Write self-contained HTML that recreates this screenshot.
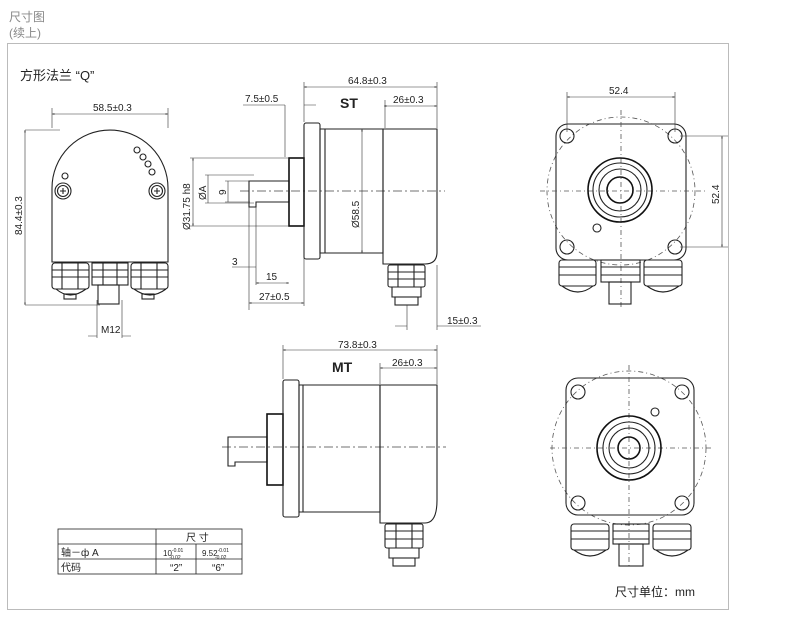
<!DOCTYPE html>
<html><head><meta charset="utf-8"><style>
html,body{margin:0;padding:0;background:#fff;}
svg{display:block;font-family:"Liberation Sans","Noto Sans CJK SC",sans-serif;}
.l{fill:none;stroke:#222;stroke-width:1.1}
.b{fill:none;stroke:#111;stroke-width:1.6}
.t{fill:none;stroke:#333;stroke-width:0.6}
.c{fill:none;stroke:#444;stroke-width:0.7;stroke-dasharray:9 3 2 3}
.d{fill:none;stroke:#555;stroke-width:0.8;stroke-dasharray:5 3 1 3}
text{fill:#222;font-size:10px}
</style></head><body>
<svg width="790" height="626" viewBox="0 0 790 626">
<defs><marker id="a" viewBox="0 0 10 10" refX="10" refY="5" markerWidth="6" markerHeight="4" orient="auto-start-reverse"><path d="M0,2 L10,5 L0,8z" fill="#222"/></marker></defs>
<text x="9" y="21" style="fill:#888;font-size:12px">尺寸图</text>
<text x="9" y="37" style="fill:#888;font-size:12px">(续上)</text>
<rect x="7.5" y="43.5" width="721" height="566" fill="none" stroke="#bbb" stroke-width="1"/>
<text x="20" y="80" style="font-size:13px">方形法兰 “Q”</text>

<!-- Front view left -->
<path class="l" d="M52,262 V188 A58,58 0 0 1 168,188 V262 Z"/>
<circle class="l" cx="63" cy="191" r="8"/><circle class="l" cx="63" cy="191" r="5.5"/>
<circle class="l" cx="157" cy="191" r="8"/><circle class="l" cx="157" cy="191" r="5.5"/>
<path class="l" d="M60,191h6M63,188v6M154,191h6M157,188v6"/>
<circle class="l" cx="65" cy="176" r="3"/><circle class="l" cx="137" cy="150" r="3"/><circle class="l" cx="143" cy="157" r="3"/><circle class="l" cx="148" cy="164" r="3"/><circle class="l" cx="152" cy="172" r="3"/>
<g class="l">
<rect x="52" y="263" width="37" height="26" rx="3"/><path d="M52,270h37M52,277h37M62,263v26M78,263v26"/><path d="M56,289 q14,12 30,0"/><rect x="64" y="294" width="12" height="5"/>
<rect x="92" y="263" width="36" height="22"/><path d="M92,270h36M92,277h36M103,263v22M117,263v22"/><rect x="98" y="285" width="21" height="19"/>
<rect x="131" y="263" width="37" height="26" rx="3"/><path d="M131,270h37M131,277h37M141,263v26M157,263v26"/><path d="M134,289 q16,12 32,0"/><rect x="142" y="294" width="12" height="5"/>
</g>
<path class="t" d="M52,108V128M168,108V128M25,130H60M25,305H100"/>
<line class="t" x1="52" y1="114" x2="168" y2="114" marker-start="url(#a)" marker-end="url(#a)"/>
<text x="93" y="111">58.5±0.3</text>
<line class="t" x1="25" y1="130" x2="25" y2="305" marker-start="url(#a)" marker-end="url(#a)"/>
<text transform="translate(22,235) rotate(-90)">84.4±0.3</text>
<path class="t" d="M97,300V338M122,300V338M88,336h9M122,336h9"/>
<text x="101" y="333">M12</text>

<!-- ST side view -->
<line class="c" x1="240" y1="191" x2="445" y2="191"/>
<path class="l" d="M249,181H289V202H256V207H249Z"/>
<rect class="b" x="289" y="158" width="15" height="68"/>
<rect class="l" x="304" y="123" width="16" height="136" rx="2"/>
<path class="l" d="M320,129H383V253H320ZM325,129V253"/>
<path class="l" d="M383,129H437V252Q437,264 425,264H383Z"/>
<g class="l"><rect x="388" y="265" width="37" height="22" rx="2"/><path d="M388,272h37M388,279h37M398,265v22M414,265v22"/><path d="M392,287v10h29v-10"/><rect x="395" y="297" width="23" height="8"/></g>
<path class="t" d="M304,82V122M437,82V128M285,105V157M385,100V128M407,305V330M437,265V330"/>
<line class="t" x1="304" y1="87" x2="437" y2="87" marker-start="url(#a)" marker-end="url(#a)"/>
<text x="348" y="84">64.8±0.3</text>
<path class="t" d="M243,105H285M304,105H316"/><text x="245" y="102">7.5±0.5</text>
<text x="340" y="108" style="font-weight:bold;font-size:14px">ST</text>
<line class="t" x1="384" y1="106" x2="437" y2="106" marker-start="url(#a)" marker-end="url(#a)"/><text x="393" y="103">26±0.3</text>
<path class="t" d="M190,158H289M190,226H289M205,175H254M205,203H254M225,181H250M225,202H250"/>
<line class="t" x1="193" y1="158" x2="193" y2="226" marker-start="url(#a)" marker-end="url(#a)"/>
<text transform="translate(190,230) rotate(-90)">Ø31.75 h8</text>
<line class="t" x1="208" y1="175" x2="208" y2="203"/><text transform="translate(206,200) rotate(-90)">ØA</text>
<line class="t" x1="228" y1="181" x2="228" y2="202"/><text transform="translate(226,195) rotate(-90)">9</text>
<line class="t" x1="362" y1="129" x2="362" y2="253" marker-start="url(#a)" marker-end="url(#a)"/>
<text transform="translate(359,228) rotate(-90)">Ø58.5</text>
<path class="t" d="M249,207V310M256,207V285M304,226V306"/>
<path class="t" d="M232,267H256"/><text x="232" y="265">3</text>
<line class="t" x1="256" y1="283" x2="289" y2="283" marker-start="url(#a)" marker-end="url(#a)"/><text x="266" y="280">15</text>
<line class="t" x1="249" y1="303" x2="304" y2="303" marker-start="url(#a)" marker-end="url(#a)"/><text x="259" y="300">27±0.5</text>
<path class="t" d="M395,326H407M437,326H481"/><text x="447" y="324">15±0.3</text>

<!-- top-right view -->
<circle class="d" cx="621" cy="191" r="74"/>
<rect class="l" x="556" y="124" width="130" height="136" rx="12"/>
<line class="d" x1="540" y1="191" x2="705" y2="191"/><line class="d" x1="621" y1="110" x2="621" y2="310"/>
<circle class="b" cx="620" cy="190" r="32"/><circle class="l" cx="620" cy="190" r="27"/><circle class="l" cx="620" cy="190" r="21"/><circle class="b" cx="620" cy="190" r="13"/>
<g class="l"><circle cx="567" cy="136" r="7"/><circle cx="675" cy="136" r="7"/><circle cx="567" cy="247" r="7"/><circle cx="675" cy="247" r="7"/><circle cx="597" cy="228" r="4"/>
<rect x="559" y="260" width="37" height="26" rx="3"/><path d="M559,267h37M559,275h37"/><path d="M562,286q16,12 31,0"/>
<rect x="601" y="260" width="39" height="22"/><path d="M601,267h39M601,275h39"/><rect x="609" y="282" width="22" height="22"/>
<rect x="644" y="260" width="38" height="26" rx="3"/><path d="M644,267h38M644,275h38"/><path d="M647,286q16,12 32,0"/></g>
<path class="t" d="M567,92V132M675,92V132M680,136H728M680,247H728"/>
<line class="t" x1="567" y1="97" x2="675" y2="97" marker-start="url(#a)" marker-end="url(#a)"/><text x="609" y="94">52.4</text>
<line class="t" x1="722" y1="136" x2="722" y2="247" marker-start="url(#a)" marker-end="url(#a)"/>
<text transform="translate(719,204) rotate(-90)">52.4</text>

<!-- MT side view -->
<line class="c" x1="222" y1="447" x2="446" y2="447"/>
<path class="l" d="M228,437H267V462H235V466H228Z"/>
<rect class="b" x="267" y="414" width="16" height="71"/>
<rect class="l" x="283" y="380" width="16" height="137" rx="2"/>
<path class="l" d="M299,385H380V512H299ZM303,385V512"/>
<path class="l" d="M380,385H437V500Q437,523 425,523H380Z"/>
<g class="l"><rect x="385" y="524" width="38" height="24" rx="2"/><path d="M385,531h38M385,539h38M396,524v24M412,524v24"/><path d="M389,548v10h30v-10"/><rect x="393" y="558" width="22" height="8"/></g>
<path class="t" d="M283,345V379M437,345V384M380,363V384"/>
<line class="t" x1="283" y1="350" x2="437" y2="350" marker-start="url(#a)" marker-end="url(#a)"/><text x="338" y="348">73.8±0.3</text>
<text x="332" y="372" style="font-weight:bold;font-size:14px">MT</text>
<line class="t" x1="380" y1="368" x2="437" y2="368" marker-start="url(#a)" marker-end="url(#a)"/><text x="392" y="366">26±0.3</text>

<!-- bottom-right view -->
<circle class="d" cx="629" cy="448" r="77"/>
<rect class="l" x="566" y="378" width="128" height="137" rx="12"/>
<line class="d" x1="550" y1="448" x2="713" y2="448"/><line class="d" x1="629" y1="365" x2="629" y2="568"/>
<circle class="b" cx="629" cy="448" r="32"/><circle class="l" cx="629" cy="448" r="26"/><circle class="l" cx="629" cy="448" r="20"/><circle class="b" cx="629" cy="448" r="11"/>
<g class="l"><circle cx="578" cy="392" r="7"/><circle cx="682" cy="392" r="7"/><circle cx="578" cy="503" r="7"/><circle cx="682" cy="503" r="7"/><circle cx="655" cy="412" r="4"/>
<rect x="571" y="524" width="38" height="26" rx="3"/><path d="M571,531h38M571,539h38"/><path d="M574,550q16,12 32,0"/>
<rect x="613" y="524" width="36" height="20"/><path d="M613,531h36M613,539h36"/><rect x="619" y="544" width="24" height="22"/>
<rect x="653" y="524" width="38" height="26" rx="3"/><path d="M653,531h38M653,539h38"/><path d="M656,550q16,12 32,0"/></g>
<text x="615" y="596" style="font-size:12px">尺寸单位：mm</text>

<!-- table -->
<g class="t" style="stroke:#222;stroke-width:0.8"><rect x="58" y="529" width="184" height="45"/><path d="M58,544H242M58,559H242M156,529V574M196,544V574"/></g>
<text x="186" y="541">尺  寸</text>
<text x="61" y="556">轴－ф A</text>
<text x="163" y="556" style="font-size:8px">10<tspan dy="-4" style="font-size:5px">-0.01</tspan><tspan dx="-14" dy="7" style="font-size:5px">-0.02</tspan></text>
<text x="202" y="556" style="font-size:8px">9.52<tspan dy="-4" style="font-size:5px">-0.01</tspan><tspan dx="-14" dy="7" style="font-size:5px">-0.02</tspan></text>
<text x="61" y="571">代码</text>
<text x="170" y="571">“2”</text><text x="212" y="571">“6”</text>
</svg>
</body></html>
